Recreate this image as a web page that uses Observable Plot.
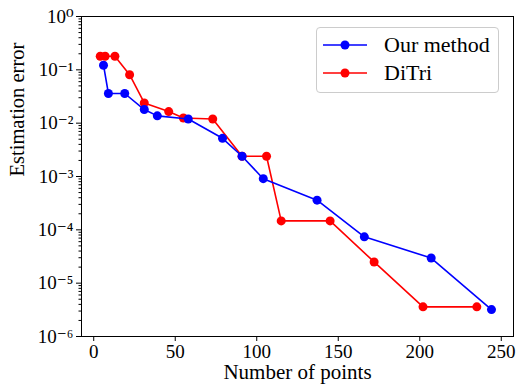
<!DOCTYPE html>
<html><head><meta charset="utf-8">
<script src="https://cdn.jsdelivr.net/npm/d3@7"></script>
<script src="https://cdn.jsdelivr.net/npm/@observablehq/plot@0.6"></script>
<style>
body{margin:0;background:#fff;}
#wrap{position:relative;width:518px;height:387px;font-family:"Liberation Serif","DejaVu Serif",serif;}
#wrap svg text{font-family:"Liberation Serif","DejaVu Serif",serif !important;}
#legend{position:absolute;left:316px;top:27px;width:181px;height:64px;border:1px solid #ccc;border-radius:4px;background:#fff;}
</style>
</head><body>
<div id="wrap"></div>
<script>
const oursX = [6, 9, 19, 31, 39, 58, 79, 91, 104, 137, 166, 207, 244];
const oursY = [0.122, 0.036, 0.036, 0.018, 0.0137, 0.012, 0.0052, 0.0024, 0.00091, 3.6e-4, 7.4e-5, 2.96e-5, 3.2e-6];
const ditriX = [4, 7, 13, 22, 31, 46, 55, 73, 91, 106, 115, 145, 172, 202, 235];
const ditriY = [0.18, 0.18, 0.18, 0.081, 0.024, 0.0165, 0.0125, 0.012, 0.0024, 0.0024, 1.47e-4, 1.47e-4, 2.5e-5, 3.6e-6, 3.6e-6];
const xTicks = [0, 50, 100, 150, 200, 250];
const yTicks = [1e-6, 1e-5, 1e-4, 1e-3, 1e-2, 1e-1, 1];
const yTickLabels = ["10⁻⁶", "10⁻⁵", "10⁻⁴", "10⁻³", "10⁻²", "10⁻¹", "10⁰"];
const seriesNames = ["Our method", "DiTri"];
const seriesColors = ["blue", "red"];

const ours = oursX.map((x, i) => ({x, y: oursY[i]}));
const ditri = ditriX.map((x, i) => ({x, y: ditriY[i]}));
const minor = [];
for (let e = -6; e < 0; e++) for (let m = 2; m <= 9; m++) minor.push(m * Math.pow(10, e));
const serif = '"Liberation Serif","DejaVu Serif",serif';

const chart = Plot.plot({
  width: 518, height: 387,
  marginLeft: 81, marginRight: 5, marginTop: 16, marginBottom: 51,
  style: {fontFamily: serif, fontSize: "19px", color: "black", background: "white"},
  x: {domain: [-7.5, 257.5]},
  y: {type: "log", domain: [1e-6, 1]},
  marks: [
    Plot.axisX({ticks: xTicks, tickSize: 5, tickPadding: 3, tickFormat: d => String(d), label: null, fontSize: 19, fontFamily: serif, fontVariant: "normal"}),
    Plot.axisY({ticks: yTicks, tickSize: 5, tickPadding: 3, tickFormat: d => yTickLabels[yTicks.indexOf(d)], label: null, fontSize: 19, fontFamily: serif, fontVariant: "normal"}),
    Plot.axisY({ticks: minor, tickSize: 2.5, tickFormat: () => "", label: null}),
    Plot.line(ditri, {x: "x", y: "y", stroke: seriesColors[1], strokeWidth: 1.6}),
    Plot.dot(ditri, {x: "x", y: "y", fill: seriesColors[1], r: 4.5}),
    Plot.line(ours, {x: "x", y: "y", stroke: seriesColors[0], strokeWidth: 1.6}),
    Plot.dot(ours, {x: "x", y: "y", fill: seriesColors[0], r: 4.5}),
    Plot.frame({stroke: "black", strokeWidth: 1}),
    Plot.text(["Number of points"], {frameAnchor: "bottom", dy: 28, lineAnchor: "top", fontSize: 21, fontFamily: serif, text: d => d}),
    Plot.text(["Estimation error"], {frameAnchor: "left", dx: -64, rotate: -90, fontSize: 20.5, fontFamily: serif, text: d => d})
  ]
});
d3.select(chart).attr("font-family", serif).selectAll("text").attr("font-family", serif);
const wrap = document.getElementById("wrap");
wrap.appendChild(chart);

const legend = document.createElement("div");
legend.id = "legend";
const ns = "http://www.w3.org/2000/svg";
const ls = document.createElementNS(ns, "svg");
ls.setAttribute("width", 181); ls.setAttribute("height", 64);
seriesNames.forEach((name, i) => {
  const y = 17 + i * 28;
  const line = document.createElementNS(ns, "line");
  line.setAttribute("x1", 6); line.setAttribute("x2", 50);
  line.setAttribute("y1", y); line.setAttribute("y2", y);
  line.setAttribute("stroke", seriesColors[i]); line.setAttribute("stroke-width", 1.6);
  ls.appendChild(line);
  const c = document.createElementNS(ns, "circle");
  c.setAttribute("cx", 28); c.setAttribute("cy", y); c.setAttribute("r", 4.5);
  c.setAttribute("fill", seriesColors[i]);
  ls.appendChild(c);
  const t = document.createElementNS(ns, "text");
  t.setAttribute("x", 67); t.setAttribute("y", y + 7);
  t.setAttribute("font-size", 22);
  t.setAttribute("font-family", serif);
  t.textContent = name;
  ls.appendChild(t);
});
legend.appendChild(ls);
wrap.appendChild(legend);
</script>
</body></html>
